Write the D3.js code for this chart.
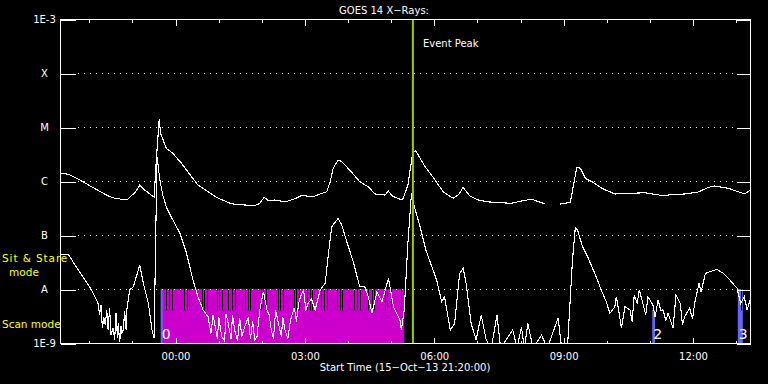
<!DOCTYPE html>
<html>
<head>
<meta charset="utf-8">
<script src="https://cdn.jsdelivr.net/npm/d3@7"></script>
<style>
  body { margin: 0; background: #000; }
  svg { display: block; }
</style>
</head>
<body>
<script>
// minutes after start (15-Oct-13 21:20:00), flux in W/m^2
const longChannel = [
  [0,1.39e-6],[12,1.33e-6],[28,1.04e-6],[44,7.8e-7],[67,5.3e-7],[76,4.8e-7],[93,4.45e-7],[99,5.3e-7],
  [104,6.0e-7],[111,8.4e-7],[118,6.8e-7],[131,5.0e-7],[134,2.45e-6],[138,1.39e-5],[140,7.6e-6],[148,4.0e-6],
  [157,3.26e-6],[169,2.13e-6],[183,1.2e-6],[192,8.4e-7],[206,6.3e-7],[220,4.8e-7],[237,3.86e-7],[243,3.7e-7],
  [271,3.5e-7],[278,3.86e-7],[284,5.0e-7],[290,4.3e-7],[299,4.45e-7],[313,4.1e-7],[327,4.7e-7],[336,5.4e-7],
  [352,5.1e-7],[364,5.9e-7],[371,6.3e-7],[376,9.7e-7],[380,1.72e-6],[387,2.45e-6],[392,2.28e-6],[403,1.6e-6],
  [417,9.7e-7],[429,7.8e-7],[438,5.75e-7],[452,5.5e-7],[457,6.5e-7],[462,5.3e-7],[473,4.6e-7],[477,4.6e-7],
  [484,8.4e-7],[491,3.5e-6],[495,3.6e-6],[508,1.84e-6],[522,1.04e-6],[533,6.3e-7],[547,4.8e-7],[554,5.5e-7],
  [561,7.6e-7],[570,5.3e-7],[582,4.45e-7],[596,4.1e-7],[628,3.86e-7],[642,4.26e-7],[656,4.6e-7],[675,3.75e-7],
  [685,null],[696,3.75e-7],[710,4.0e-7],[714,7.8e-7],[719,1.8e-6],[724,1.72e-6],[731,1.12e-6],[740,9.7e-7],
  [754,7.3e-7],[772,5.75e-7],[814,6.06e-7],[837,5.4e-7],[869,5.75e-7],[888,6.25e-7],[902,7.6e-7],[911,8.1e-7],
  [930,7.3e-7],[953,5.75e-7],[960,6.8e-7]
];

const shortChannel = [
  [0,4.45e-8],[12,4.26e-8],[21,2.78e-8],[33,1.58e-8],[44,9.6e-9],[53,5.4e-9],[55,3.3e-9],[57,5.05e-9],
  [59,1.9e-9],[61,3.0e-9],[63,2.15e-9],[65,4.1e-9],[67,1.74e-9],[69,4.5e-9],[71,1.41e-9],[74,1.9e-9],
  [76,1.14e-9],[78,3.6e-9],[80,1.24e-9],[81,2.3e-9],[83,1.04e-9],[85,2.1e-9],[86,1.5e-9],[88,1.74e-9],
  [90,3.9e-9],[92,1.74e-9],[93,4.1e-9],[95,6.25e-9],[97,9.6e-9],[102,1.1e-8],
  [111,2.78e-8],[116,1.27e-8],[123,5.4e-9],[128,1.74e-9],[131,1.22e-9],[133,7.0e-8],[135,2.8e-6],[139,1.04e-6],
  [143,5.5e-7],[148,3.3e-7],[157,1.9e-7],[167,1.07e-7],[176,4.6e-8],[185,1.47e-8],[192,7.2e-9],
  [199,4.1e-9],[206,3.07e-9],[210,1.5e-9],[213,3.3e-9],[216,2.0e-9],[219,1.2e-9],[221,3.0e-9],[225,1.3e-9],
  [229,1.1e-9],[231,3.5e-9],[234,2.3e-9],[238,1.2e-9],[240,3.3e-9],[243,1.74e-9],[247,1.1e-9],[250,2.9e-9],
  [253,1.3e-9],[257,2.0e-9],[262,3.0e-9],[265,1.2e-9],[268,2.5e-9],[271,1.14e-9],[274,1.3e-9],[278,4.1e-9],
  [283,8.9e-9],[288,4.1e-9],[291,3.3e-9],[294,1.74e-9],[297,1.2e-9],[300,4.0e-9],[304,2.3e-9],[308,1.3e-9],
  [310,3.0e-9],[313,1.74e-9],[317,1.2e-9],[320,2.3e-9],[322,3.07e-9],[326,4.5e-9],[329,2.5e-9],[332,5.4e-9],
  [335,7.5e-9],[339,9.6e-9],[342,4.0e-9],[345,5.4e-9],[350,6.5e-9],[355,4.1e-9],[362,9.6e-9],[369,1.27e-8],
  [373,3.97e-8],[378,1.42e-7],[387,2.04e-7],[392,1.53e-7],
  [399,7.5e-8],[408,3.2e-8],[417,1.1e-8],[424,1.1e-8],[429,7.2e-9],[434,3.55e-9],[441,8.9e-9],[448,5.8e-9],
  [457,1.58e-8],[464,4.7e-9],[473,2.67e-9],[475,1.74e-9],[479,4.1e-9],[484,7.0e-8],[489,5.9e-7],[493,3.34e-7],
  [501,1.42e-7],[509,5.3e-8],[524,1.47e-8],[531,5.8e-9],[535,7.2e-9],[543,1.74e-9],[549,2.3e-9],[556,1.95e-8],
  [561,2.4e-8],[565,1.27e-8],[572,2.3e-9],[579,1.14e-9],[586,3.3e-9],[593,1.14e-9],[600,8e-10],[608,3.3e-9],
  [613,8e-10],[630,1.74e-9],[636,8e-10],[642,2.0e-9],[646,8e-10],[651,2.3e-9],[658,8e-10],[670,1.4e-9],
  [678,8e-10],[693,2.9e-9],[698,8e-10],[706,8e-10],[709,4.1e-9],[713,3.4e-8],[717,1.39e-7],[720,1.24e-7],
  [727,6.06e-8],[734,3.97e-8],[744,1.95e-8],[753,9.6e-9],[760,5.8e-9],[765,3.55e-9],[772,4.7e-9],[774,7.2e-9],
  [778,3.55e-9],[781,1.87e-9],[786,4.7e-9],[793,4.1e-9],[796,2.5e-9],[799,7.75e-9],[803,5.5e-9],[806,9.6e-9],
  [811,5.4e-9],[815,3.3e-9],[818,7.2e-9],[825,5.05e-9],[828,3.0e-9],[832,6.25e-9],[836,4.0e-9],[839,4.1e-9],
  [843,2.6e-9],[846,3.55e-9],[853,1.87e-9],[857,7.75e-9],[863,5.4e-9],[866,2.2e-9],[869,3.07e-9],[876,4.4e-9],
  [880,2.8e-9],[883,5.4e-9],[889,1.27e-8],[892,8.9e-9],[898,1.95e-8],[904,2.09e-8],[914,2.3e-8],[923,1.95e-8],
  [932,1.47e-8],[942,1.03e-8],[947,5.4e-9],[952,7.2e-9],[956,4.1e-9],[960,6.25e-9]
];

const classFlux = [1e-9, 1e-8, 1e-7, 1e-6, 1e-5, 1e-4, 1e-3];
const classLabels = ["1E-9", "A", "B", "C", "M", "X", "1E-3"];

const timeTickMinutes = [160, 340, 520, 700, 880];
const timeTickLabels = ["00:00", "03:00", "06:00", "09:00", "12:00"];
const hourTickMinutes = [40, 100, 160, 220, 280, 340, 400, 460, 520, 580, 640, 700, 760, 820, 880, 940];

const scanModeMinutes = [141, 479];
const stareMinutes = [147,152,156, 172,176,180, 198,201,205, 218,221,225, 234,239,243, 257,262,265,
  280,283,287, 303,306,310, 325,328,333, 344,348,351, 363,367,372, 385,390,393, 409,413,417,
  429,434,437, 452,455,460, 475, 947];

const markerLabels = ["0", "2", "3"];
const markerStart = [140, 824, 943];
const markerEnd = [143, 828, 950];
const markerTop = [1e-8, 4.1e-9, 1e-8];

const eventPeakMinute = 491;
const startTime = "15-Oct-13 21:20:00";

const width = 768, height = 384;
const plot = {x0: 60, x1: 750, y0: 19, y1: 343};
const font = "'DejaVu Sans', sans-serif";

const svg = d3.select("body").append("svg")
    .attr("width", width)
    .attr("height", height);
svg.append("rect")
    .attr("width", width)
    .attr("height", height)
    .style("fill", "black");

const x = d3.scaleLinear().domain([0, 960]).range([plot.x0, plot.x1]);
const y = d3.scaleLog().domain([1e-9, 1e-3]).range([plot.y1, plot.y0]);

svg.append("clipPath").attr("id", "plotclip")
    .append("rect")
    .attr("x", plot.x0).attr("y", plot.y0)
    .attr("width", plot.x1 - plot.x0).attr("height", plot.y1 - plot.y0);

// scan mode band
svg.append("rect")
    .attr("x", x(scanModeMinutes[0]))
    .attr("width", x(scanModeMinutes[1]) - x(scanModeMinutes[0]))
    .attr("y", y(1e-8))
    .attr("height", y(1e-9) - y(1e-8))
    .style("fill", "#cc00cc");

// marker bars
svg.append("g").selectAll("rect")
    .data(markerLabels)
    .enter()
    .append("rect")
    .attr("x", (d, i) => x(markerStart[i]))
    .attr("width", (d, i) => x(markerEnd[i]) - x(markerStart[i]))
    .attr("y", (d, i) => y(markerTop[i]))
    .attr("height", (d, i) => y(1e-9) - y(markerTop[i]))
    .style("fill", "#6464ff");

svg.append("g").selectAll("line")
    .data(stareMinutes)
    .enter()
    .append("line")
    .attr("x1", d => Math.round(x(d)) + 0.5)
    .attr("x2", d => Math.round(x(d)) + 0.5)
    .attr("y1", y(1e-8))
    .attr("y2", y(4e-9))
    .style("stroke", "black")
    .style("stroke-width", 1);

// dotted level lines
svg.append("g").selectAll("line")
    .data(classFlux.slice(1, -1))
    .enter()
    .append("line")
    .attr("x1", plot.x0 + 18)
    .attr("x2", plot.x1 - 16)
    .attr("y1", d => Math.round(y(d)) + 0.5)
    .attr("y2", d => Math.round(y(d)) + 0.5)
    .style("stroke", "white")
    .style("stroke-dasharray", "1,5");

// curves
const line = d3.line()
    .defined(d => d[1] !== null)
    .x(d => x(d[0]))
    .y(d => y(d[1]));

const curves = svg.append("g").attr("clip-path", "url(#plotclip)");
[longChannel, shortChannel].forEach(series => {
    curves.append("path")
        .attr("d", line(series))
        .style("fill", "none")
        .style("stroke", "white")
        .style("stroke-width", 1.1)
        .style("shape-rendering", "crispEdges");
});

// event peak
svg.append("line")
    .attr("x1", x(eventPeakMinute)).attr("x2", x(eventPeakMinute))
    .attr("y1", plot.y0).attr("y2", plot.y1)
    .style("stroke", "#9acd00")
    .style("stroke-width", 2);

// frame
svg.append("rect")
    .attr("x", plot.x0 + 0.5).attr("y", plot.y0 + 0.5)
    .attr("width", plot.x1 - plot.x0).attr("height", plot.y1 - plot.y0)
    .style("fill", "none")
    .style("stroke", "white");

function styleAxis(g){
    g.select(".domain").remove();
    g.selectAll(".tick line").attr("stroke", "white").style("shape-rendering", "crispEdges");
    g.selectAll(".tick text")
        .attr("fill", "white")
        .style("font-family", font)
        .style("font-size", "10px");
}

svg.append("g")
    .attr("transform", `translate(${plot.x0 + 0.5},0.5)`)
    .call(d3.axisLeft(y).tickValues(classFlux).tickFormat((d, i) => classLabels[i]).tickSize(-15))
    .call(styleAxis)
    .call(g => g.selectAll(".tick text").attr("text-anchor", "middle").attr("x", -16));

svg.append("g")
    .attr("transform", `translate(${plot.x1 + 0.5},0.5)`)
    .call(d3.axisRight(y).tickValues(classFlux).tickFormat("").tickSize(-14))
    .call(styleAxis);

svg.append("g")
    .attr("transform", `translate(0.5,${plot.y1 + 0.5})`)
    .call(d3.axisBottom(x).tickValues(hourTickMinutes).tickFormat("").tickSize(-3))
    .call(styleAxis);
svg.append("g")
    .attr("transform", `translate(0.5,${plot.y1 + 0.5})`)
    .call(d3.axisBottom(x).tickValues(timeTickMinutes).tickFormat((d, i) => timeTickLabels[i]).tickSize(-6).tickPadding(9))
    .call(styleAxis);
svg.append("g")
    .attr("transform", `translate(0.5,${plot.y0 + 0.5})`)
    .call(d3.axisTop(x).tickValues(hourTickMinutes).tickFormat("").tickSize(-3))
    .call(styleAxis);
svg.append("g")
    .attr("transform", `translate(0.5,${plot.y0 + 0.5})`)
    .call(d3.axisTop(x).tickValues(timeTickMinutes).tickFormat("").tickSize(-6))
    .call(styleAxis);

function addText(txt, px, py, opts = {}){
    return svg.append("text")
        .attr("x", px)
        .attr("y", py)
        .attr("text-anchor", opts.anchor || "start")
        .style("fill", opts.color || "white")
        .style("font-family", font)
        .style("font-size", (opts.size || 10) + "px")
        .style("letter-spacing", (opts.spacing || 0) + "px")
        .text(txt);
}

addText("GOES 14 X\u2212Rays:", 384, 14, {anchor: "middle"});
addText("Event Peak", x(eventPeakMinute) + 10, 47);
addText(`Start Time (${startTime.replace(/-/g, "\u2212")})`, 405, 371, {anchor: "middle"});
addText("Sit & Stare", 2, 262, {color: "yellow", size: 10.5, spacing: 0.9});
addText("mode", 24, 276, {color: "yellow", size: 10.5, anchor: "middle"});
addText("Scan mode", 2, 328, {color: "yellow", size: 10.5});

svg.append("g").selectAll("text")
    .data(markerLabels)
    .enter()
    .append("text")
    .attr("x", (d, i) => x(markerStart[i]) + 1)
    .attr("y", 339)
    .style("fill", "white")
    .style("font-family", font)
    .style("font-size", "14px")
    .text(d => d);
</script>
</body>
</html>
